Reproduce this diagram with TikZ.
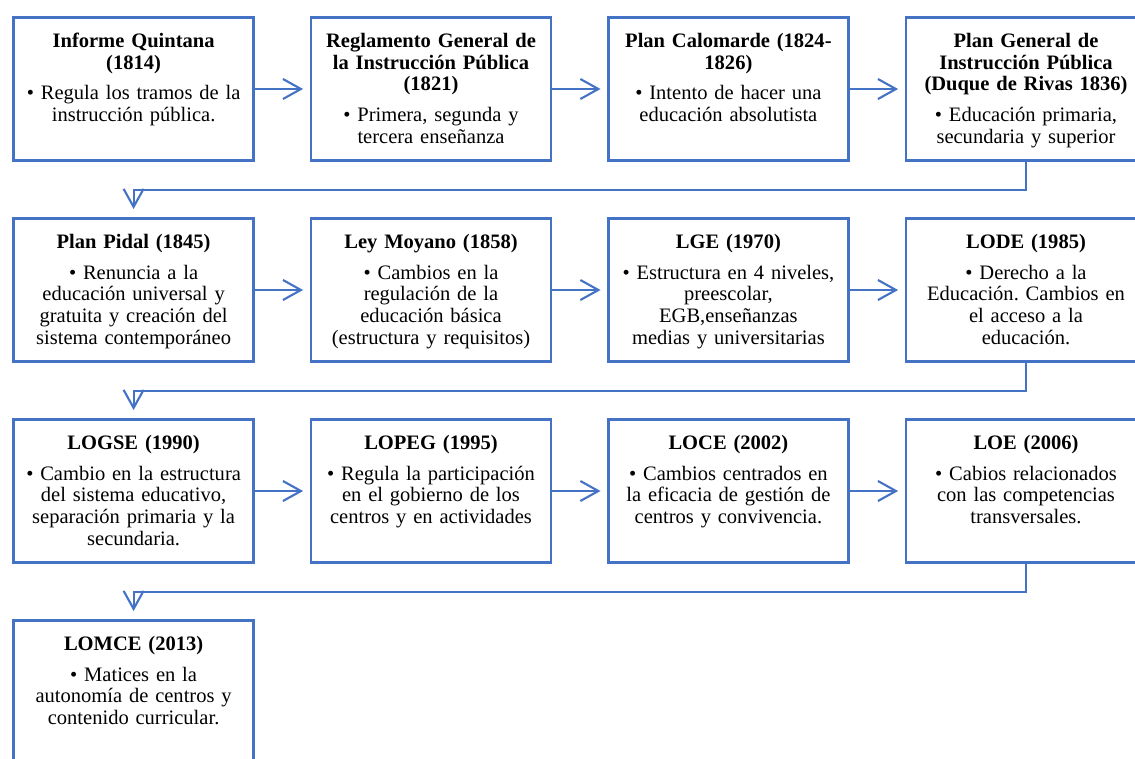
\documentclass[tikz,border=0pt]{standalone}
\usepackage{fontspec}
\setmainfont{Liberation Serif}
\usetikzlibrary{arrows.meta}
\definecolor{smblue}{HTML}{4472C4}
\frenchspacing

\begin{document}
\begin{tikzpicture}[
  hito/.style={draw=smblue, line width=2.1pt, fill=white, rectangle,
    minimum width=6cm, text width=5.8cm, align=center,
    inner xsep=0.05cm, inner ysep=0.2cm,
    text height=0.54cm, text depth=2.635cm,
    font=\fontsize{14.6}{15.6}\selectfont},
  paso/.style={draw=smblue, line width=1.5pt,
    -{Straight Barb[length=0.45cm,width=0.5cm]}, shorten >=0.16cm}
]
% page frame (last column and row are cut by it):
\useasboundingbox (0,0) rectangle (28.375,-18.95);
\clip (0,0) rectangle (28.375,-18.95);

% row 1
\node[hito] (n1) at (3.34,-2.225) {{\bfseries Informe Quintana\\(1814)}\\[6.4pt]
  \textbullet\ Regula los tramos de la\\instrucción pública.};
\node[hito] (n2) at (10.775,-2.225) {{\bfseries Reglamento General de\\la Instrucción Pública\\(1821)}\\[6.4pt]
  \textbullet\ Primera, segunda y\\tercera enseñanza};
\node[hito] (n3) at (18.21,-2.225) {{\bfseries Plan Calomarde (1824-\\1826)}\\[6.4pt]
  \textbullet\ Intento de hacer una\\educación absolutista};
\node[hito] (n4) at (25.65,-2.225) {{\bfseries Plan General de\\Instrucción Pública\\(Duque de Rivas 1836)}\\[6.4pt]
  \textbullet\ Educación primaria,\\secundaria y superior};

% row 2
\node[hito] (n5) at (3.34,-7.25) {{\bfseries Plan Pidal (1845)}\\[6.4pt]
  \textbullet\ Renuncia a la\\educación universal y\\gratuita y creación del\\sistema contemporáneo};
\node[hito] (n6) at (10.775,-7.25) {{\bfseries Ley Moyano (1858)}\\[6.4pt]
  \textbullet\ Cambios en la\\regulación de la\\educación básica\\(estructura y requisitos)};
\node[hito] (n7) at (18.21,-7.25) {{\bfseries LGE (1970)}\\[6.4pt]
  \textbullet\ Estructura en 4 niveles,\\preescolar,\\EGB,enseñanzas\\medias y universitarias};
\node[hito] (n8) at (25.65,-7.25) {{\bfseries LODE (1985)}\\[6.4pt]
  \textbullet\ Derecho a la\\Educación. Cambios en\\el acceso a la\\educación.};

% row 3
\node[hito] (n9) at (3.34,-12.275) {{\bfseries LOGSE (1990)}\\[6.4pt]
  \textbullet\ Cambio en la estructura\\del sistema educativo,\\separación primaria y la\\secundaria.};
\node[hito] (n10) at (10.775,-12.275) {{\bfseries LOPEG (1995)}\\[6.4pt]
  \textbullet\ Regula la participación\\en el gobierno de los\\centros y en actividades};
\node[hito] (n11) at (18.21,-12.275) {{\bfseries LOCE (2002)}\\[6.4pt]
  \textbullet\ Cambios centrados en\\la eficacia de gestión de\\centros y convivencia.};
\node[hito] (n12) at (25.65,-12.275) {{\bfseries LOE (2006)}\\[6.4pt]
  \textbullet\ Cabios relacionados\\con las competencias\\transversales.};

% row 4
\node[hito] (n13) at (3.34,-17.3) {{\bfseries LOMCE (2013)}\\[6.4pt]
  \textbullet\ Matices en la\\autonomía de centros y\\contenido curricular.};

% arrows inside a row
\foreach \a/\b in {n1/n2,n2/n3,n3/n4,n5/n6,n6/n7,n7/n8,n9/n10,n10/n11,n11/n12} {
  \draw[paso] (\a.east) -- (\b.west);
}
% arrows from one row to the next
\foreach \a/\b in {n4/n5,n8/n9,n12/n13} {
  \draw[paso, shorten >=0.2cm] (\a.south) -- ++(0,-0.69) -| (\b.north);
}

\end{tikzpicture}
\end{document}
